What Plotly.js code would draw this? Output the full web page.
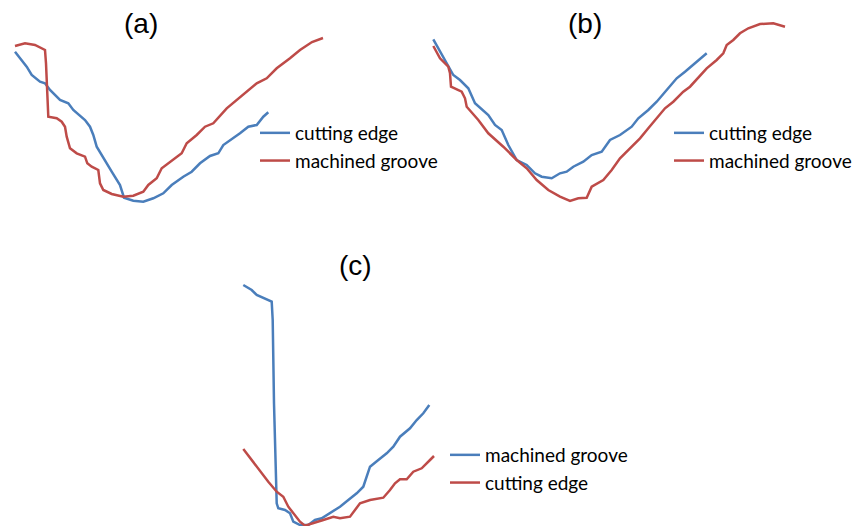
<!DOCTYPE html>
<html><head><meta charset="utf-8">
<script src="https://cdn.plot.ly/plotly-3.0.1.min.js"></script>
<style>html,body{margin:0;padding:0;background:#fff}#chart{width:860px;height:526px}</style>
</head><body><div id="chart"></div>
<script>
// Panel (a)
const aEdgeX = [15,26.7,31.7,40,45,50,60,68.3,73.3,85,90,93.3,96.7,103.3,111.7,120,124,133.3,143.3,153.3,163.3,171.7,183.3,191.7,200,210,218.3,223.3,233.3,240,248.3,256.7,263.3,268.3];
const aEdgeY = [51.7,66.7,75,81.7,83.3,90,100,103.3,110,120,126.7,135,146.7,158.3,171.7,185,197.7,200.7,201.7,198.3,193.3,185,176.7,171.7,163.3,156,153.3,145,138.3,133.3,126.7,125,116.7,112.3];
const aGrooveX = [15,25,35,45,46,47.3,48.3,56.7,61.7,65,66.7,70,76.7,85,87.3,91.7,98.3,100,103.3,111.7,123.3,133.3,143.3,148.3,156.7,161.7,173.3,181.7,186.7,196.7,205,213.3,226.7,236.7,246.7,256.7,266.7,276.7,290,300,312,323];
const aGrooveY = [46,43.3,45,50,63.3,96.7,116.7,118.3,121.7,126.7,136.7,148.3,153.3,156.7,163.3,166.7,170,183.3,190,194,196.7,195.7,191.7,185,178.3,168.3,160,153.3,143.3,135,126.7,123.3,108.3,100,91.7,83.3,78.3,68.3,58.3,50,42,38];
// Panel (b)
const bEdgeX = [433.3,440,448.3,453.3,460,468.3,475,483.3,488.3,495,501.7,508.3,516.7,526.7,535,541.7,551.7,560,566.7,573.3,583.3,591.7,601.7,610,620,631.7,638.3,648.3,656.7,666.7,676.7,685,693.3,701.7,706.7];
const bEdgeY = [39.3,51.7,66.7,75,80,88.3,103.3,110,115,125,130,145,160,165,173.3,176.7,178.3,173.3,171.7,166.7,161.7,155,151.7,140,135,126.7,118.3,110,101.7,90,78.3,71.7,65,58.3,53.3];
const bGrooveX = [433.3,440,448.3,450,451,461.7,465,466.7,478.3,488.3,503.3,516.7,526.7,536.7,548.3,560,570,578.3,586.7,591.7,603.3,611.7,620,630,640,648.3,656.7,665,673.3,683.3,690,700,706.7,716.7,723.3,726.7,733.3,740,748.3,760,773.3,785];
const bGrooveY = [46,58.3,66.7,73.3,86.7,91.7,98.3,106.7,120,133.3,146.7,160,168.3,180,190,196.7,201,198.3,197.7,186.7,180,170,158.3,148.3,138.3,128.3,118.3,108.3,101.7,91.7,86.7,75,68.3,60,53.3,45,40,33.3,28.3,24,23.3,26.7];
// Panel (c)
const cGrooveX = [243.3,251.7,256.7,263.3,271.7,272.7,274,276.7,278.3,285,290,293.3,300,308.3,315,321.7,330,340,348.3,356.7,363.3,366.7,370,378.3,386.7,393.3,400,410,416.7,423.3,429.3];
const cGrooveY = [285,290,295,298.3,301.7,320,403.3,503.3,508.3,510,513.3,521.7,525,525,520,518.3,513.3,506.7,500,493.3,486.7,476.7,466.7,460,453.3,446.7,436.7,428.3,420,413.3,405];
const cEdgeX = [243.3,251.7,260,268.3,276.7,283.3,288.3,295,300,305,313.3,323.3,333.3,340,350,355,360,370,383.3,390,395,400,406.7,413.3,421.7,430,434];
const cEdgeY = [449,460,471.7,481.7,491.7,496.7,506.7,515,521.7,525.7,523.3,520,516.7,518.3,516.7,510,503.3,500,497.7,490,483.3,479.3,479.3,471.7,468.3,460,456];

const BLUE = '#4A7EBB', RED = '#BE4B48';
const panelTitles = ['(a)', '(b)', '(c)'];
const titleX = [141, 585, 355];
const titleY = [23, 23, 265];

function tr(x, y, name, color, legend) {
  return {x: x, y: y, name: name, type: 'scatter', mode: 'lines',
    line: {color: color, width: 2.5}, legend: legend, hoverinfo: 'skip'};
}
const data = [
  tr(aEdgeX, aEdgeY, 'cutting edge', BLUE, 'legend'),
  tr(aGrooveX, aGrooveY, 'machined groove', RED, 'legend'),
  tr(bEdgeX, bEdgeY, 'cutting edge', BLUE, 'legend2'),
  tr(bGrooveX, bGrooveY, 'machined groove', RED, 'legend2'),
  tr(cGrooveX, cGrooveY, 'machined groove', BLUE, 'legend3'),
  tr(cEdgeX, cEdgeY, 'cutting edge', RED, 'legend3')
];
const legFont = {family: 'Lato, "Open Sans", sans-serif', size: 19, color: '#000'};
function leg(x, y) {
  return {x: x, y: y, xref: 'paper', yref: 'paper', xanchor: 'left', yanchor: 'top',
    font: legFont, bgcolor: 'rgba(0,0,0,0)', borderwidth: 0, itemwidth: 30, tracegroupgap: 0};
}
const layout = {
  width: 860, height: 526,
  margin: {l: 0, r: 0, t: 0, b: 0},
  paper_bgcolor: '#fff', plot_bgcolor: '#fff',
  xaxis: {range: [0, 860], visible: false, fixedrange: true},
  yaxis: {range: [526, 0], visible: false, fixedrange: true},
  showlegend: true,
  legend: leg(255/860, 1 - 114/526),
  legend2: leg(669/860, 1 - 114/526),
  legend3: leg(445/860, 1 - 436/526),
  annotations: panelTitles.map((t, i) => ({
    text: t, x: titleX[i], y: titleY[i], xref: 'x', yref: 'y',
    showarrow: false, font: {family: '"Liberation Sans", Arial, sans-serif', size: 28, color: '#000'}
  }))
};
Plotly.newPlot('chart', data, layout, {displayModeBar: false, staticPlot: true});
</script></body></html>
